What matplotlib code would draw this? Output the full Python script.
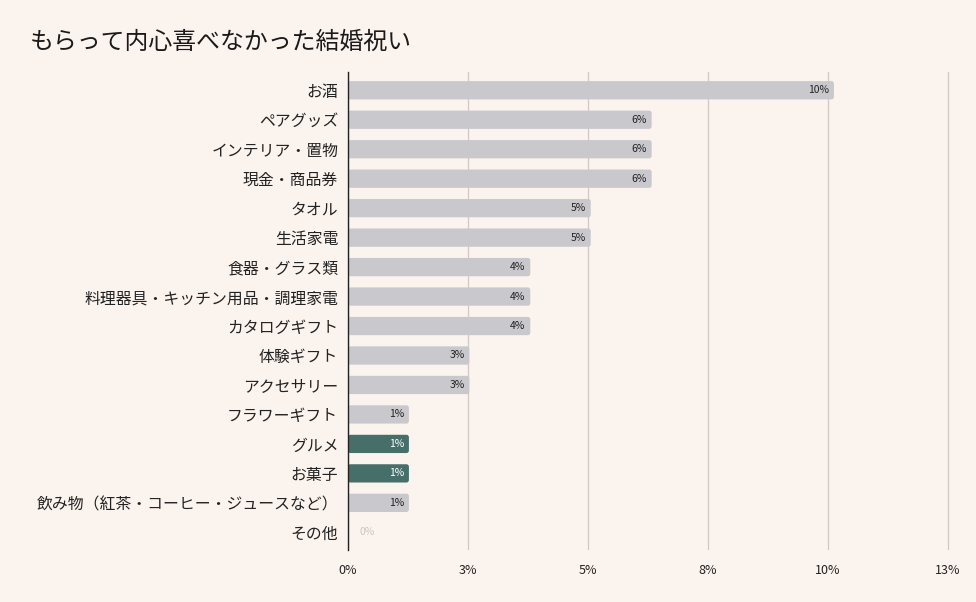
import matplotlib.pyplot as plt
from matplotlib.patches import FancyBboxPatch
from matplotlib.ticker import FixedLocator

plt.rcParams['font.family'] = ['Noto Sans CJK JP', 'DejaVu Sans']

# data
categories = [
    'お酒', 'ペアグッズ', 'インテリア・置物', '現金・商品券', 'タオル', '生活家電',
    '食器・グラス類', '料理器具・キッチン用品・調理家電', 'カタログギフト', '体験ギフト',
    'アクセサリー', 'フラワーギフト', 'グルメ', 'お菓子',
    '飲み物（紅茶・コーヒー・ジュースなど）', 'その他',
]
values = [10.13, 6.33, 6.33, 6.33, 5.06, 5.06, 3.80, 3.80, 3.80, 2.53,
          2.53, 1.27, 1.27, 1.27, 1.27, 0.0]
highlight = ['グルメ', 'お菓子']
x_ticks = [0, 2.5, 5, 7.5, 10, 12.5]
x_tick_labels = ['0%', '3%', '5%', '8%', '10%', '13%']

bg = '#FBF3EE'
grey = '#C9C8CC'
green = '#476F6A'

fig = plt.figure(figsize=(9.76, 6.02), dpi=100, facecolor=bg)
ax = fig.add_axes([348 / 976, 52 / 602, 602 / 976, 478 / 602])
ax.set_facecolor(bg)

ypos = list(range(len(categories)))
colors = [green if c in highlight else grey for c in categories]
bars = ax.barh(ypos, values, height=0.62, color=colors, zorder=3)

ax.set_ylim(15.6, -0.62)
ax.set_xlim(0, 12.55)

# swap plain bars for slightly rounded ones
x_px = 12.55 / 602
y_px = 16.22 / 478
for b in bars:
    if b.get_width() <= 0:
        b.set_visible(False)
        continue
    rb = FancyBboxPatch((b.get_x(), b.get_y()), b.get_width(), b.get_height(),
                        boxstyle=f"round,pad=0,rounding_size={2.5 * x_px}",
                        mutation_aspect=y_px / x_px,
                        facecolor=b.get_facecolor(), edgecolor='none', zorder=3)
    b.set_visible(False)
    ax.add_patch(rb)

for y, v, c in zip(ypos, values, categories):
    label = f"{round(v):.0f}%"
    if v == 0:
        ax.text(0.25, y, label, ha='left', va='center', fontsize=7.5,
                color='#C8C6C6', zorder=4)
    else:
        tc = 'white' if c in highlight else '#222222'
        ax.text(v - 0.1, y, label, ha='right', va='center', fontsize=7.5,
                color=tc, zorder=4)

ax.set_yticks(ypos)
ax.set_yticklabels(categories, fontsize=11.4, color='#222222')
ax.xaxis.set_major_locator(FixedLocator(x_ticks))
ax.set_xticklabels(x_tick_labels, fontsize=9, color='#222222')
ax.tick_params(axis='both', length=0)
ax.tick_params(axis='y', pad=7)
ax.tick_params(axis='x', pad=10)

ax.grid(axis='x', color='#D3C8C5', linewidth=0.9, zorder=0)
for s in ['top', 'right', 'bottom']:
    ax.spines[s].set_visible(False)
ax.spines['left'].set_color('#222222')
ax.spines['left'].set_linewidth(1)
ax.spines['left'].set_zorder(5)

fig.text(30 / 976, 1 - 42 / 602, 'もらって内心喜べなかった結婚祝い',
         fontsize=17.2, color='#1a1a1a', ha='left', va='center')

fig.savefig('out.png', dpi=100, facecolor=bg)
